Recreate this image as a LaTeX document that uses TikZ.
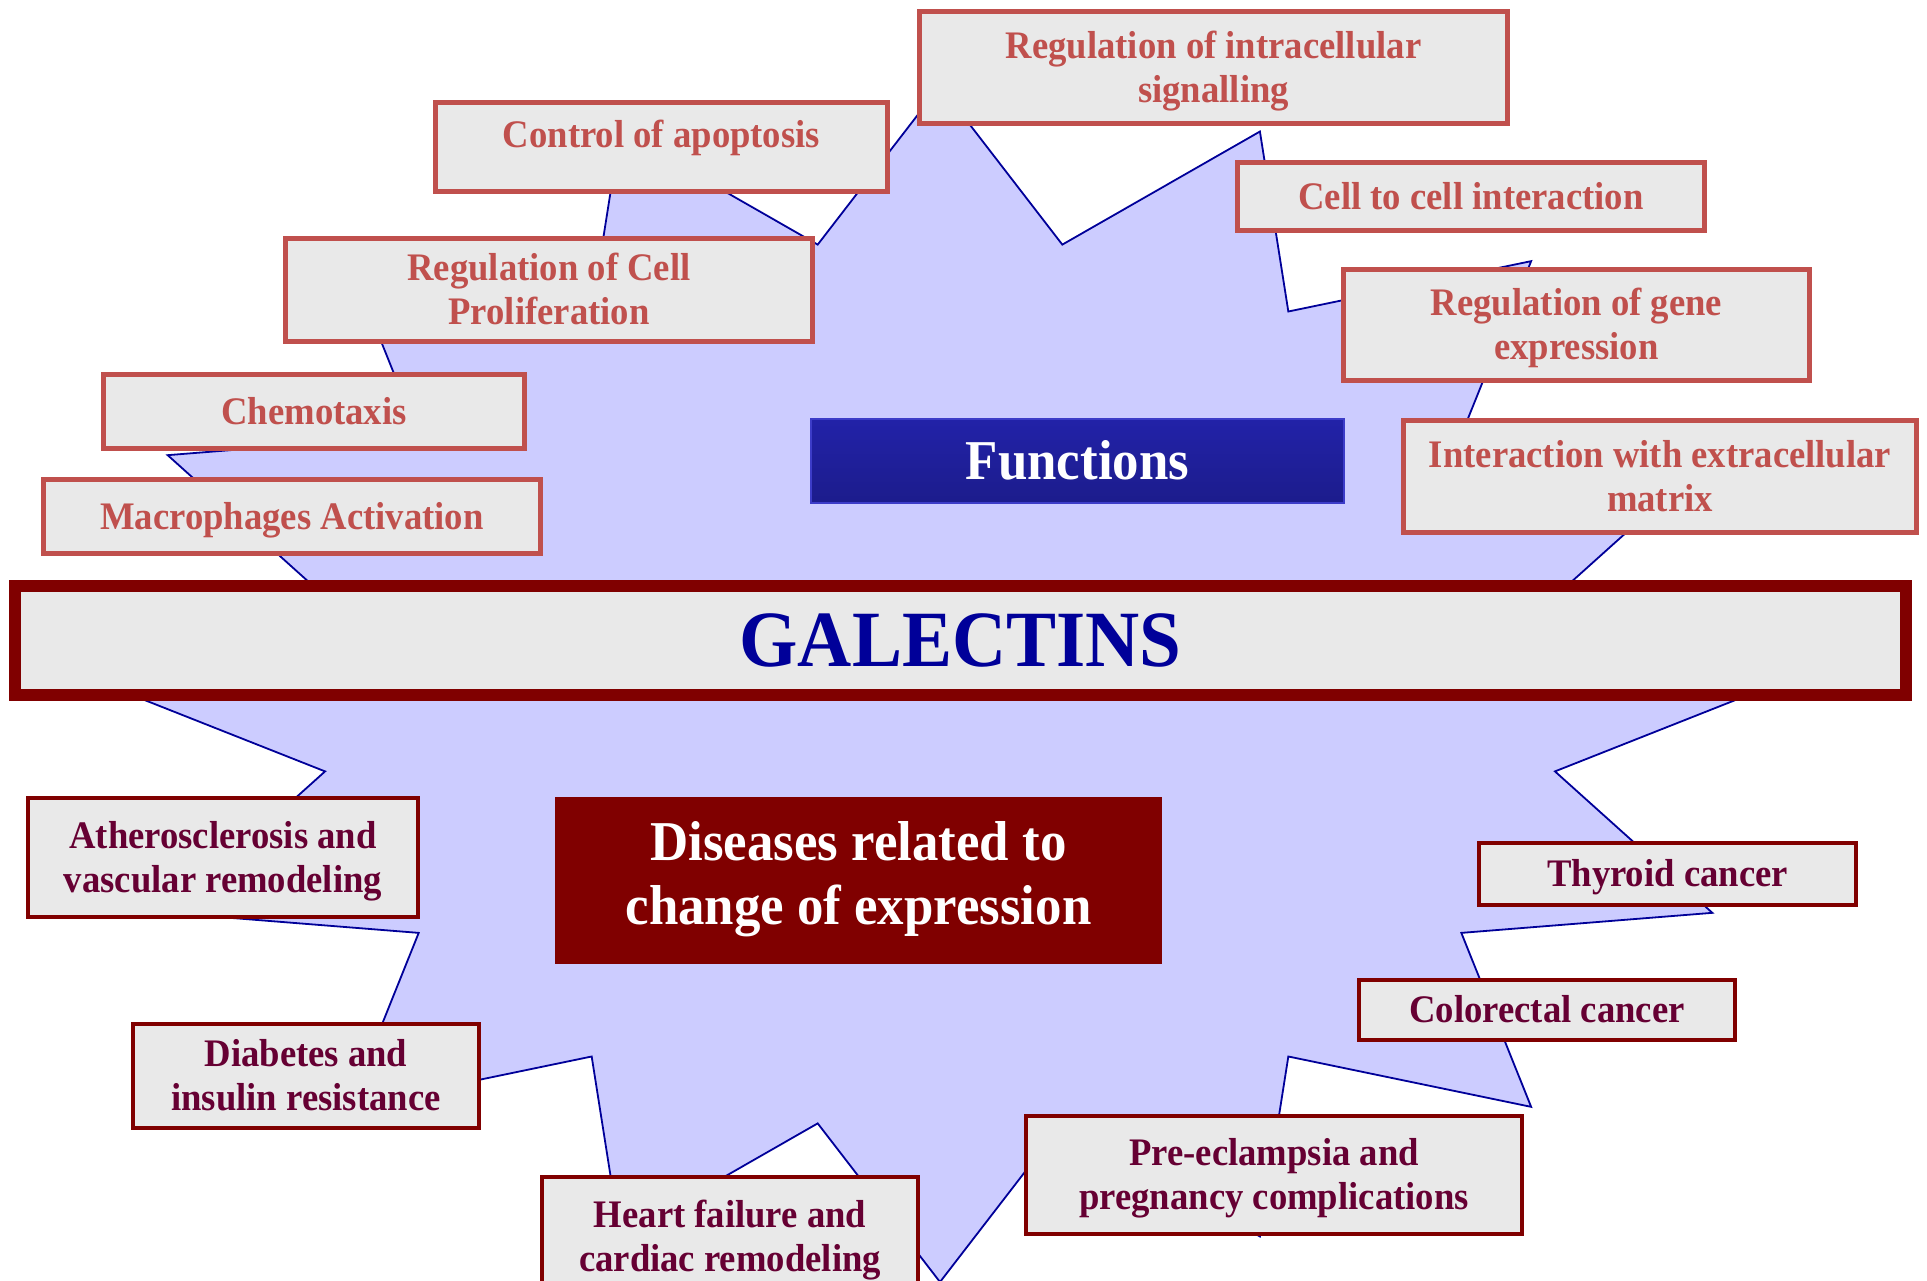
\documentclass[tikz,border=0pt]{standalone}
\usepackage{fontspec}
\newfontfamily\tnr{Liberation Serif}[FakeStretch=0.94]
% line strut: equal height/depth on every line so text is centred optically
\newcommand\sst{\rule[-0.23em]{0pt}{1.12em}}
\definecolor{fnred}{RGB}{192,80,77}
\definecolor{dzred}{RGB}{128,0,0}
\definecolor{dztext}{RGB}{102,0,51}
\definecolor{boxgray}{RGB}{233,233,233}
\definecolor{starfill}{RGB}{204,204,255}
\definecolor{starline}{RGB}{0,0,153}
\definecolor{galblue}{RGB}{0,0,153}
\definecolor{fnbluetop}{RGB}{34,34,168}
\definecolor{fnbluebot}{RGB}{28,28,140}
\definecolor{fnblueedge}{RGB}{60,60,200}
\begin{document}
\begin{tikzpicture}[x=0.1mm,y=-0.1mm,
  smallfont/.style={font=\tnr\bfseries\fontsize{11.1pt}{12.5pt}\selectfont},
  bigfont/.style={font=\tnr\bfseries\fontsize{16pt}{18.2pt}\selectfont},
  fnbox/.style={draw=fnred, line width=0.5mm, fill=boxgray, text=fnred,
    inner sep=0pt, align=center, smallfont},
  fntext/.style={text=fnred, inner sep=0pt, align=center, smallfont},
  dzbox/.style={draw=dzred, line width=0.4mm, fill=boxgray, text=dztext,
    inner sep=0pt, align=center, smallfont},
  starshape/.style={fill=starfill, draw=starline, line width=0.18mm, line join=miter}]
\useasboundingbox (0,0) rectangle (1927,1281);
\clip (0,0) rectangle (1927,1281);
\fill[white] (0,0) rectangle (1927,1281);

% sixteen-point star behind everything
\path[starshape] (940,86)
  \foreach \k in {0,...,15}{
    -- ({940+627*cos(-78.75+22.5*\k)},{684+448*sin(-78.75+22.5*\k)})
    -- ({940+836*cos(-67.5+22.5*\k)},{684+598*sin(-67.5+22.5*\k)})
  } -- cycle;

% headings
\node[top color=fnbluetop, bottom color=fnbluebot, draw=fnblueedge, line width=0.15mm,
  minimum width=53.3mm, minimum height=8.4mm, inner sep=0pt, text=white, bigfont]
  (functions) at (1077.5,461) {\sst Functions};
\node[fill=dzred, minimum width=60.7mm, minimum height=16.7mm, inner sep=0pt]
  (diseases) at (858.5,880.5) {};
\node[text=white, align=center, inner sep=0pt, bigfont]
  (diseasestext) at (858.5,874) {\sst Diseases related to\\\sst change of expression};

% central bar
\node[draw=dzred, line width=1.2mm, fill=boxgray, minimum width=189.1mm,
  minimum height=10.9mm, inner sep=0pt, text=galblue,
  font=\tnr\bfseries\fontsize{22.7pt}{25pt}\selectfont]
  (galectins) at (960.5,640.5) {\sst GALECTINS};

% functions
\node[fnbox, minimum width=58.8mm, minimum height=11.2mm] (intracell) at (1213.5,67.5)
  {\sst Regulation of intracellular\\\sst signalling};
\node[fnbox, minimum width=45.2mm, minimum height=8.9mm] (apoptosis) at (661.5,147) {};
\node[fntext] (apoptosistext) at (661.5,135) {\sst Control of apoptosis};
\node[fnbox, minimum width=52.7mm, minimum height=10.3mm] (prolif) at (549,290)
  {\sst Regulation of Cell\\\sst Proliferation};
\node[fnbox, minimum width=42.1mm, minimum height=7.4mm] (chemo) at (314,411.5)
  {\sst Chemotaxis};
\node[fnbox, minimum width=49.7mm, minimum height=7.4mm] (macro) at (292,516.5)
  {\sst Macrophages Activation};
\node[fnbox, minimum width=46.7mm, minimum height=6.8mm] (cellcell) at (1471,196.5)
  {\sst Cell to cell interaction};
\node[fnbox, minimum width=46.6mm, minimum height=11.1mm] (gene) at (1576.5,325)
  {\sst Regulation of gene\\\sst expression};
\node[fnbox, minimum width=51.3mm, minimum height=11.2mm] (ecm) at (1660,476.5)
  {\sst Interaction with extracellular\\\sst matrix};

% diseases
\node[dzbox, minimum width=39.0mm, minimum height=11.9mm] (athero) at (223,857.5)
  {\sst Atherosclerosis and\\\sst vascular remodeling};
\node[dzbox, minimum width=34.6mm, minimum height=10.4mm] (diabetes) at (306,1076)
  {\sst Diabetes and\\\sst insulin resistance};
\node[dzbox, minimum width=37.6mm, minimum height=11.9mm] (heart) at (730,1236.5)
  {\sst Heart failure and\\\sst cardiac remodeling};
\node[dzbox, minimum width=49.6mm, minimum height=11.8mm] (preecl) at (1274,1175)
  {\sst Pre-eclampsia and\\\sst pregnancy complications};
\node[dzbox, minimum width=37.6mm, minimum height=6.0mm] (colorectal) at (1547,1010)
  {\sst Colorectal cancer};
\node[dzbox, minimum width=37.7mm, minimum height=6.2mm] (thyroid) at (1667.5,874)
  {\sst Thyroid cancer};
\end{tikzpicture}
\end{document}
